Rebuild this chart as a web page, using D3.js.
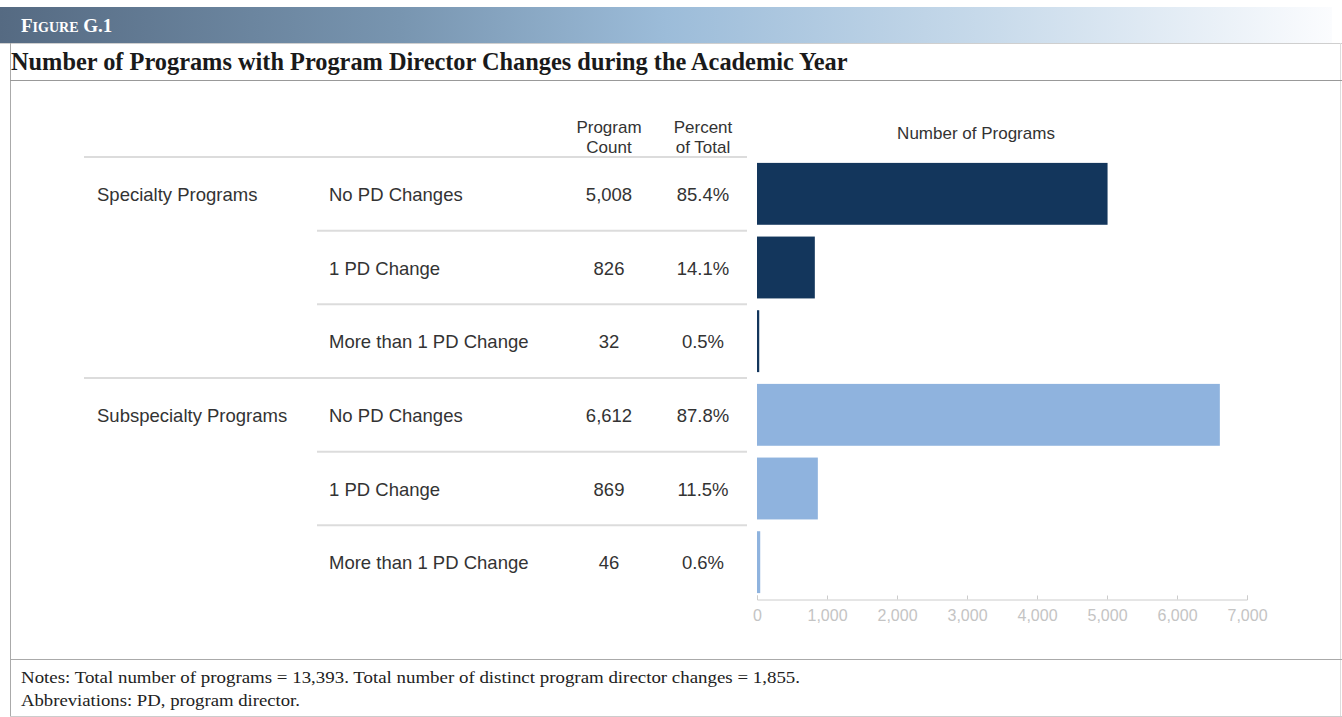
<!DOCTYPE html>
<html>
<head>
<meta charset="utf-8">
<script src="https://cdn.jsdelivr.net/npm/d3@7"></script>
<style>
  html, body { margin: 0; padding: 0; background: #fff; }
  svg { display: block; }
</style>
</head>
<body>
<svg id="chart" width="1342" height="717"></svg>
<script>
// ---- data ----
const groups = ["Specialty Programs", "Subspecialty Programs"];
const changeTypes = ["No PD Changes", "1 PD Change", "More than 1 PD Change"];
const specialtyCounts = [5008, 826, 32];
const subspecialtyCounts = [6612, 869, 46];
const specialtyPercents = [85.4, 14.1, 0.5];
const subspecialtyPercents = [87.8, 11.5, 0.6];
const xTicks = [0, 1000, 2000, 3000, 4000, 5000, 6000, 7000];
const groupColors = ["#13365c", "#8fb3de"];

const figureLabel = "G.1";
const titleText = "Number of Programs with Program Director Changes during the Academic Year";
const noteLines = [
  "Notes: Total number of programs = 13,393. Total number of distinct program director changes = 1,855.",
  "Abbreviations: PD, program director."
];

// flatten into table rows
const rows = [];
groups.forEach((g, gi) => {
  const counts = gi === 0 ? specialtyCounts : subspecialtyCounts;
  const pcts = gi === 0 ? specialtyPercents : subspecialtyPercents;
  changeTypes.forEach((c, ci) => {
    rows.push({ key: g + "|" + c, group: g, gi, change: c, ci, count: counts[ci], pct: pcts[ci] });
  });
});

const svg = d3.select("#chart");
const W = 1342, H = 717;
const sans = "Arial, 'Liberation Sans', Helvetica, sans-serif";
const serif = "'Times New Roman', 'Liberation Serif', serif";

// ---- frame and header band ----
const defs = svg.append("defs");
const grad = defs.append("linearGradient").attr("id", "hdr").attr("x1", "0").attr("x2", "1");
[["0%", "#556a82"], ["30%", "#7895b0"], ["50%", "#9cbcd9"], ["75%", "#c9dbeb"], ["100%", "#fbfcfe"]]
  .forEach(([o, c]) => grad.append("stop").attr("offset", o).attr("stop-color", c));

svg.append("rect").attr("x", 0).attr("y", 7).attr("width", 1332).attr("height", 36).attr("fill", "url(#hdr)");

const hdr = svg.append("text").attr("x", 21).attr("y", 32)
  .attr("font-family", serif).attr("font-weight", "bold").attr("fill", "#fff");
hdr.append("tspan").attr("font-size", 19).text("F");
hdr.append("tspan").attr("font-size", 14).text("IGURE");
hdr.append("tspan").attr("font-size", 19).text(" " + figureLabel);

const frame = svg.append("g").attr("fill", "none");
frame.append("line").attr("x1", 0).attr("x2", W).attr("y1", 43.5).attr("y2", 43.5).attr("stroke", "#cfcfcf");
frame.append("line").attr("x1", 10.5).attr("x2", 10.5).attr("y1", 43).attr("y2", H).attr("stroke", "#aaa");
frame.append("line").attr("x1", 1340.5).attr("x2", 1340.5).attr("y1", 43).attr("y2", H).attr("stroke", "#ddd");
frame.append("line").attr("x1", 10).attr("x2", W).attr("y1", 80.5).attr("y2", 80.5).attr("stroke", "#999");
frame.append("line").attr("x1", 10).attr("x2", W).attr("y1", 659.5).attr("y2", 659.5).attr("stroke", "#aaa");
frame.append("line").attr("x1", 10).attr("x2", W).attr("y1", 716.5).attr("y2", 716.5).attr("stroke", "#ccc");

// fit a text element to a target width by adjusting its font size
function fitWidth(sel, target) {
  const fs = parseFloat(sel.attr("font-size"));
  const w = sel.node().getComputedTextLength();
  sel.attr("font-size", fs * target / w);
}

const title = svg.append("text").attr("x", 11).attr("y", 70)
  .attr("font-family", serif).attr("font-weight", "bold").attr("font-size", 21)
  .attr("fill", "#1a1a1a").text(titleText);
fitWidth(title, 837);

const notesG = svg.append("g").attr("font-family", serif).attr("fill", "#222");
noteLines.forEach((t, i) => {
  notesG.append("text").attr("x", 21).attr("y", 683 + i * 23).attr("font-size", 17)
    .attr("textLength", i === 0 ? 779 : 279).attr("lengthAdjust", "spacingAndGlyphs").text(t);
});

// ---- scales ----
const y = d3.scaleBand().domain(rows.map(r => r.key)).range([157, 599])
  .paddingInner(0.16).paddingOuter(0.08);
const x = d3.scaleLinear().domain([0, 7000]).range([757, 1247]);

// ---- column headers ----
const colCount = 609, colPct = 703;
const head = svg.append("g").attr("font-family", sans).attr("font-size", 17).attr("fill", "#333")
  .attr("text-anchor", "middle");
head.append("text").attr("x", colCount).attr("y", 133).text("Program");
head.append("text").attr("x", colCount).attr("y", 153).text("Count");
head.append("text").attr("x", colPct).attr("y", 133).text("Percent");
head.append("text").attr("x", colPct).attr("y", 153).text("of Total");
head.append("text").attr("x", 976).attr("y", 139).text("Number of Programs");

// ---- table separators ----
const step = y.step();
const sep = svg.append("g").attr("stroke", "#dcdcdc").attr("stroke-width", 2);
rows.forEach(r => {
  const yy = y(r.key) - step * y.paddingInner() / 2;
  sep.append("line")
    .attr("x1", r.ci === 0 ? 84 : 317).attr("x2", 747)
    .attr("y1", yy).attr("y2", yy);
});

// ---- table text ----
const cells = svg.append("g").attr("font-family", sans).attr("font-size", 18.5).attr("fill", "#333");
const mid = r => y(r.key) + y.bandwidth() / 2;
rows.filter(r => r.ci === 0).forEach(r => {
  cells.append("text").attr("x", 97).attr("y", mid(r)).attr("dy", "0.38em").text(r.group);
});
rows.forEach(r => {
  cells.append("text").attr("x", 329).attr("y", mid(r)).attr("dy", "0.38em").text(r.change);
  cells.append("text").attr("x", colCount).attr("y", mid(r)).attr("dy", "0.38em")
    .attr("text-anchor", "middle").text(d3.format(",")(r.count));
  cells.append("text").attr("x", colPct).attr("y", mid(r)).attr("dy", "0.38em")
    .attr("text-anchor", "middle").text(r.pct.toFixed(1) + "%");
});

// ---- bars ----
svg.append("g").selectAll("rect").data(rows).join("rect")
  .attr("x", x(0))
  .attr("y", d => y(d.key))
  .attr("width", d => x(d.count) - x(0))
  .attr("height", y.bandwidth())
  .attr("fill", d => groupColors[d.gi]);

// ---- x axis ----
const axis = d3.axisBottom(x).tickValues(xTicks).tickFormat(d3.format(","))
  .tickSizeInner(-4).tickSizeOuter(-4).tickPadding(10);
const ax = svg.append("g").attr("transform", "translate(0,599.5)").call(axis);
ax.selectAll("path, line").attr("stroke", "#cccccc");
ax.selectAll("text").attr("font-family", sans).attr("font-size", 16).attr("fill", "#c4c4c4");
</script>
</body>
</html>
